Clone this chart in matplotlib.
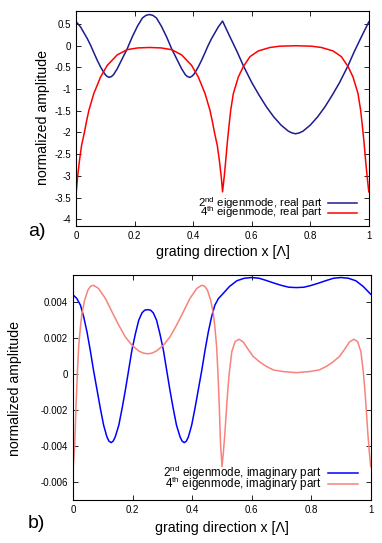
import matplotlib
matplotlib.use("Agg")
import matplotlib.pyplot as plt
from matplotlib.lines import Line2D

plt.rcParams['font.family'] = ['Liberation Sans', 'DejaVu Sans']
plt.rcParams['mathtext.fontset'] = 'custom'
plt.rcParams['mathtext.rm'] = 'Liberation Sans'
plt.rcParams['mathtext.it'] = 'Liberation Sans'
plt.rcParams['axes.unicode_minus'] = False

# ---------------- data: panel a) real parts ----------------
x_re2 = [0, 0.015, 0.026, 0.038, 0.049, 0.06, 0.072, 0.083, 0.097, 0.104, 0.112, 0.12,
         0.127, 0.14, 0.157, 0.174, 0.191, 0.209, 0.226, 0.238, 0.25, 0.262, 0.274,
         0.291, 0.309, 0.326, 0.343, 0.36, 0.373, 0.38, 0.388, 0.396, 0.403, 0.417,
         0.428, 0.44, 0.451, 0.462, 0.474, 0.485, 0.5, 0.525, 0.55, 0.571, 0.6, 0.625,
         0.65, 0.675, 0.7, 0.725, 0.7375, 0.75, 0.7625, 0.775, 0.8, 0.825, 0.85,
         0.875, 0.9, 0.929, 0.95, 0.975, 1.0]
y_re2 = [0.55, 0.43, 0.30, 0.16, 0.01, -0.16, -0.34, -0.49, -0.65, -0.70, -0.73, -0.71,
         -0.67, -0.53, -0.30, -0.07, 0.20, 0.45, 0.64, 0.70, 0.72, 0.70, 0.64,
         0.45, 0.20, -0.07, -0.30, -0.53, -0.67, -0.71, -0.73, -0.70, -0.65, -0.49,
         -0.34, -0.16, 0.01, 0.16, 0.30, 0.43, 0.57, 0.21, -0.14, -0.46, -0.85, -1.14,
         -1.41, -1.64, -1.83, -1.97, -2.01, -2.03, -2.01, -1.97, -1.83, -1.64, -1.41,
         -1.14, -0.85, -0.46, -0.14, 0.21, 0.55]

x_re4 = [0, 0.004, 0.011, 0.018, 0.027, 0.035, 0.043, 0.06, 0.083, 0.106, 0.14,
         0.174, 0.21, 0.25, 0.29, 0.326, 0.36, 0.394, 0.417, 0.44, 0.457, 0.465,
         0.473, 0.482, 0.489, 0.496, 0.5, 0.506, 0.511, 0.516, 0.522, 0.528, 0.537,
         0.554, 0.571, 0.594, 0.622, 0.662, 0.696, 0.75, 0.804, 0.838, 0.878, 0.906,
         0.929, 0.946, 0.963, 0.972, 0.978, 0.984, 0.989, 0.994, 1.0]
y_re4 = [-3.37, -3.05, -2.64, -2.3, -2.02, -1.74, -1.49, -1.1, -0.72, -0.45, -0.21,
         -0.09, -0.05, -0.04, -0.05, -0.09, -0.21, -0.45, -0.72, -1.1, -1.49, -1.74,
         -2.02, -2.3, -2.64, -3.05, -3.37, -3.0, -2.64, -2.25, -1.85, -1.48, -1.10,
         -0.72, -0.48, -0.25, -0.12, -0.04, -0.01, 0.0, -0.01, -0.04, -0.12, -0.25,
         -0.48, -0.72, -1.10, -1.48, -1.85, -2.25, -2.64, -3.0, -3.37]

# ---------------- data: panel b) imaginary parts (x 1e-3) ----------------
x_im2 = [0, 0.012, 0.024, 0.035, 0.046, 0.057, 0.068, 0.08, 0.091, 0.102, 0.113,
         0.12, 0.127, 0.134, 0.141, 0.153, 0.164, 0.175, 0.186, 0.197, 0.209, 0.22,
         0.231, 0.24, 0.25, 0.26, 0.269, 0.28, 0.291, 0.303, 0.314, 0.325, 0.336,
         0.347, 0.359, 0.366, 0.373, 0.38, 0.387, 0.398, 0.409, 0.42, 0.432, 0.443,
         0.454, 0.465, 0.476, 0.488, 0.5, 0.525, 0.55, 0.575, 0.6, 0.625, 0.65, 0.675,
         0.7, 0.725, 0.75, 0.775, 0.8, 0.825, 0.85, 0.875, 0.9, 0.925, 0.95, 0.975, 1.0]
y_im2 = [4.39, 4.2, 3.83, 3.18, 2.34, 1.32, 0.2, -0.91, -1.93, -2.86, -3.51,
         -3.75, -3.83, -3.75, -3.51, -2.86, -1.93, -0.91, 0.2, 1.32, 2.25, 2.99,
         3.4, 3.55, 3.58, 3.55, 3.4, 2.99, 2.25, 1.32, 0.2, -0.91, -1.93,
         -2.86, -3.51, -3.75, -3.83, -3.75, -3.51, -2.86, -1.93, -0.91, 0.2, 1.32,
         2.34, 3.18, 3.83, 4.2, 4.41, 4.87, 5.19, 5.33, 5.37, 5.33, 5.2, 5.06,
         4.93, 4.83, 4.81, 4.83, 4.93, 5.06, 5.2, 5.33, 5.37, 5.33, 5.19, 4.87, 4.44]

x_im4 = [0, 0.005, 0.009, 0.0136, 0.018, 0.024, 0.029, 0.038, 0.049, 0.058, 0.068,
         0.085, 0.108, 0.13, 0.153, 0.175, 0.197, 0.22, 0.235, 0.25, 0.265, 0.28,
         0.303, 0.325, 0.347, 0.37, 0.392, 0.415, 0.432, 0.442, 0.451, 0.462, 0.471,
         0.476, 0.482, 0.4864, 0.491, 0.495, 0.5, 0.505, 0.51, 0.516, 0.52, 0.525,
         0.533, 0.544, 0.557, 0.572, 0.589, 0.605, 0.628, 0.65, 0.673, 0.706, 0.75,
         0.794, 0.827, 0.85, 0.872, 0.895, 0.911, 0.928, 0.943, 0.956, 0.967, 0.975,
         0.98, 0.984, 0.99, 0.995, 1.0]
y_im4 = [-5.17, -3.9, -1.84, 0.02, 1.5, 2.62, 3.36, 4.1, 4.67, 4.88, 4.94,
         4.76, 4.2, 3.46, 2.71, 2.06, 1.6, 1.28, 1.16, 1.12, 1.16, 1.28,
         1.6, 2.06, 2.71, 3.46, 4.2, 4.76, 4.94, 4.88, 4.67, 4.1, 3.36,
         2.62, 1.5, 0.02, -1.84, -3.9, -5.17, -4.3, -3.23, -1.73, -0.8, 0.13,
         1.24, 1.8, 1.93, 1.77, 1.34, 0.97, 0.65, 0.41, 0.22, 0.13, 0.07,
         0.13, 0.22, 0.41, 0.65, 0.97, 1.34, 1.77, 1.93, 1.8, 1.24, 0.13,
         -0.8, -1.73, -3.23, -4.3, -5.17]
y_im2 = [v * 1e-3 for v in y_im2]
y_im4 = [v * 1e-3 for v in y_im4]

# ticks / labels
x_ticks = [0, 0.2, 0.4, 0.6, 0.8, 1.0]
x_ticklabels = ["0", "0.2", "0.4", "0.6", "0.8", "1"]
ya_ticks = [0.5, 0, -0.5, -1, -1.5, -2, -2.5, -3, -3.5, -4]
ya_ticklabels = ["0.5", "0", "-0.5", "-1", "-1.5", "-2", "-2.5", "-3", "-3.5", "-4"]
yb_ticks = [0.004, 0.002, 0, -0.002, -0.004, -0.006]
yb_ticklabels = ["0.004", "0.002", "0", "-0.002", "-0.004", "-0.006"]

labels_a = [r"2$^{\mathrm{nd}}$ eigenmode, real part", r"4$^{\mathrm{th}}$ eigenmode, real part"]
labels_b = [r"2$^{\mathrm{nd}}$ eigenmode, imaginary part", r"4$^{\mathrm{th}}$ eigenmode, imaginary part"]
colors_a = ["#1c1c8f", "#ff0000"]
colors_b = ["#0000ff", "#f7837b"]

W, H = 382, 543
fig = plt.figure(figsize=(W / 100, H / 100), dpi=100)

def pos(l, t, r, b):
    return [l / W, 1 - b / H, (r - l) / W, (b - t) / H]

AX1 = (76.3, 11.5, 368.8, 225.7)
AX2 = (73.3, 275.2, 370.7, 499.5)
ax1 = fig.add_axes(pos(*AX1))
ax2 = fig.add_axes(pos(*AX2))

ax1.plot(x_re2, y_re2, color=colors_a[0], lw=1.1)
ax1.plot(x_re4, y_re4, color=colors_a[1], lw=1.1)
ax2.plot(x_im2, y_im2, color=colors_b[0], lw=1.1)
ax2.plot(x_im4, y_im4, color=colors_b[1], lw=1.1)

ax1.set_ylim(-4.15, 0.79)
ax2.set_ylim(-0.007, 0.0055)
for ax, yt, ytl in [(ax1, ya_ticks, ya_ticklabels), (ax2, yb_ticks, yb_ticklabels)]:
    ax.set_xlim(0, 1)
    ax.set_xticks(x_ticks)
    ax.set_xticklabels(x_ticklabels)
    ax.set_yticks(yt)
    ax.set_yticklabels(ytl)
    ax.tick_params(direction='in', top=True, right=True, length=3.5, width=0.6,
                   labelsize=7, pad=4, colors='black')
    for s in ax.spines.values():
        s.set_linewidth(0.8)
    ax.set_xlabel("grating direction x [Λ]", fontsize=10.2)
    ax.set_ylabel("normalized amplitude", fontsize=10.2)
    ax.xaxis.label.set_va('center')
    ax.yaxis.label.set_va('center')

ax1.xaxis.set_label_coords(0.5, (225.7 - 251.7) / 214.2)
ax1.yaxis.set_label_coords((43.3 - 76.3) / 292.5, 0.503)
ax2.xaxis.set_label_coords(0.5, (499.5 - 528.3) / 224.3)
ax2.yaxis.set_label_coords((15 - 73.3) / 297.4, 0.497)

# manual keys: one two-line text block per panel, line samples beside it
def key(ax, box, labels, colors, text_right_px, line_px, row_px, last_base_px, ls, fs):
    l, t, r, b = box
    w, h = r - l, b - t
    fx = lambda px: (px - l) / w
    fy = lambda py: (b - py) / h
    ax.text(fx(text_right_px), fy(last_base_px), "\n".join(labels), transform=ax.transAxes,
            ha='right', va='baseline', multialignment='right', fontsize=fs,
            linespacing=ls)
    for c, py in zip(colors, row_px):
        ax.add_line(Line2D([fx(line_px[0]), fx(line_px[1])], [fy(py), fy(py)],
                           transform=ax.transAxes, color=c, lw=1.1))

key(ax1, AX1, labels_a, colors_a, 323.3, (328.3, 356.7), (203.0, 212.7), 216.3, 0.45, 8.2)
key(ax2, AX2, labels_b, colors_b, 321.7, (328.3, 358.3), (473.0, 484.0), 488.0, 0.45, 8.4)

fig.text(36.7 / W, 1 - 231.7 / H, "a)", fontsize=14, ha='center', va='center')
fig.text(36.7 / W, 1 - 523 / H, "b)", fontsize=14, ha='center', va='center')

fig.savefig("out.png", dpi=100)
